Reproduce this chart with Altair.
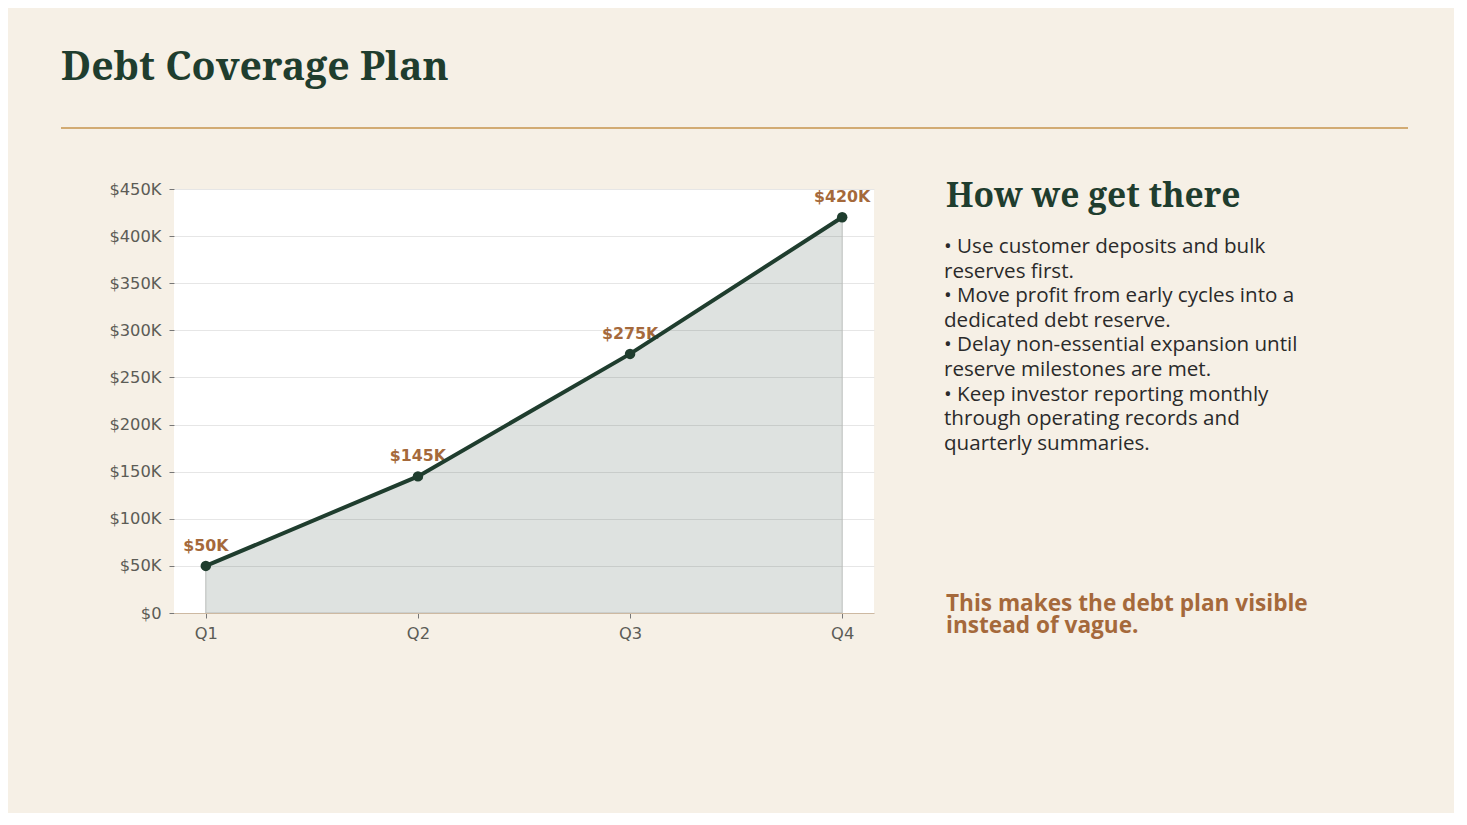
import altair as alt
import pandas as pd

# chart values
quarters = ["Q1", "Q2", "Q3", "Q4"]
reserve = [50000, 145000, 275000, 420000]
point_labels = ["$50K", "$145K", "$275K", "$420K"]
y_ticks = [0, 50000, 100000, 150000, 200000, 250000, 300000, 350000, 400000, 450000]

# slide text
title_text = "Debt Coverage Plan"
side_heading = "How we get there"
bullet_lines = [
    "\u2022 Use customer deposits and bulk",
    "reserves first.",
    "\u2022 Move profit from early cycles into a",
    "dedicated debt reserve.",
    "\u2022 Delay non-essential expansion until",
    "reserve milestones are met.",
    "\u2022 Keep investor reporting monthly",
    "through operating records and",
    "quarterly summaries.",
]
note_lines = ["This makes the debt plan visible", "instead of vague."]

GREEN = "#1f3d2e"
BROWN = "#a5693b"
SERIF = "Noto Serif, DejaVu Serif, serif"
SANS = "Open Sans, Noto Sans, sans-serif"

df = pd.DataFrame({"quarter": quarters, "reserve": reserve, "label": point_labels})

x_enc = alt.X(
    "quarter:O",
    scale=alt.Scale(type="point", padding=0.15),
    axis=alt.Axis(
        title=None, labelAngle=0, grid=False, domainColor="#cdb9a2", domainWidth=1.2,
        tickColor="#777777", tickSize=5, labelFontSize=16.3, labelColor="#5c5c56",
        labelFont="DejaVu Sans", labelPadding=7, zindex=1,
    ),
)
y_enc = alt.Y(
    "reserve:Q",
    scale=alt.Scale(domain=[0, 450000], nice=False),
    axis=alt.Axis(
        title=None, values=y_ticks, domain=False, gridColor="#e6e6e6",
        tickColor="#777777", tickSize=5, labelFontSize=16.3, labelColor="#5c5c56",
        labelFont="DejaVu Sans", labelPadding=8,
        labelExpr="datum.value == 0 ? '$0' : '$' + (datum.value / 1000) + 'K'",
    ),
)

base = alt.Chart(df).encode(x=x_enc, y=y_enc)

area = base.mark_area(
    color=GREEN, fillOpacity=0.15, stroke="#babdba", strokeWidth=1
)
line = base.mark_line(color=GREEN, strokeWidth=4)
dots = base.mark_circle(color=GREEN, size=110, opacity=1)
labels = base.mark_text(
    dy=-20, font="DejaVu Sans", fontWeight="bold", fontSize=15.8, color=BROWN
).encode(text="label:N")


def text_block(lines, **kw):
    src = pd.DataFrame({"t": ["\n".join(lines)]})
    return alt.Chart(src).mark_text(
        lineBreak="\n", align="left", baseline="alphabetic", **kw
    ).encode(text="t:N")


title = text_block([title_text], font=SERIF, fontSize=39.3, fontWeight="bold",
                   color=GREEN).encode(x=alt.value(-113), y=alt.value(-109))
rule = alt.Chart(pd.DataFrame({"r": [0]})).mark_rule(
    color="#d2ab73", strokeWidth=2
).encode(x=alt.value(-113), x2=alt.value(1234), y=alt.value(-61))
heading = text_block([side_heading], font=SERIF, fontSize=33.6, fontWeight="bold",
                     color=GREEN).encode(x=alt.value(772), y=alt.value(18))
bullets = text_block(bullet_lines, font=SANS, fontSize=20.6, lineHeight=24.6,
                     color="#2a2a2a").encode(x=alt.value(770), y=alt.value(64))
note = text_block(note_lines, font=SANS, fontSize=22.6, fontWeight="bold", lineHeight=22,
                  color=BROWN).encode(x=alt.value(772), y=alt.value(422))

chart = alt.layer(area, labels, line, dots, title, rule, heading, bullets, note).properties(
    width=700,
    height=424,
    autosize=alt.AutoSizeParams(type="none"),
    padding={"left": 166, "top": 181, "right": 580, "bottom": 200},
).configure(
    background="#f6f0e6"
).configure_view(
    fill="white", strokeWidth=0
)

chart.save("out.html", embed_options={"renderer": "svg", "actions": False})
